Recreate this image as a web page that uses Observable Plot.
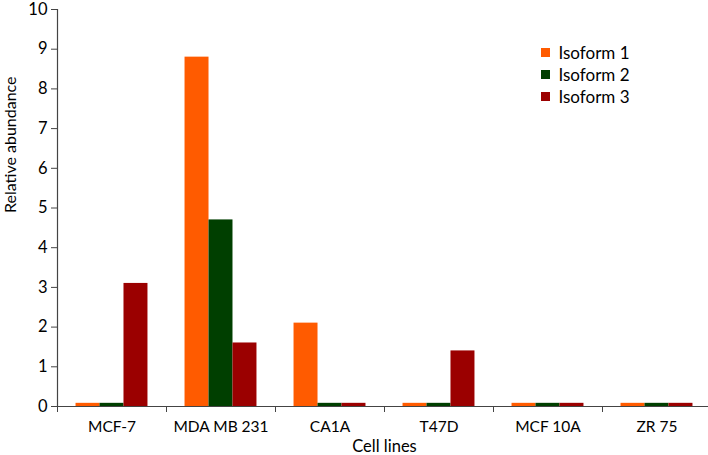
<!DOCTYPE html>
<html>
<head>
<meta charset="utf-8">
<script src="https://cdn.jsdelivr.net/npm/d3@7"></script>
<script src="https://cdn.jsdelivr.net/npm/@observablehq/plot@0.6"></script>
<style>
  html, body { margin: 0; padding: 0; background: #fff; }
  #wrap { position: relative; width: 708px; height: 455px; font-family: Lato, "Open Sans", sans-serif; }
  #legend { position: absolute; left: 541px; top: 42px; }
  #legend, #legend div, #legend span { font-size: 17px; color: #000; line-height: 21px; }
</style>
</head>
<body>
<div id="wrap"></div>
<script>
const cells = ["MCF-7", "MDA MB 231", "CA1A", "T47D", "MCF 10A", "ZR 75"];
const isoforms = ["Isoform 1", "Isoform 2", "Isoform 3"];
const iso1 = [0.08, 8.8, 2.1, 0.08, 0.08, 0.08];
const iso2 = [0.08, 4.7, 0.08, 0.08, 0.08, 0.08];
const iso3 = [3.1, 1.6, 0.08, 1.4, 0.08, 0.08];
const colors = ["#ff5b00", "#003f00", "#9b0000"];
const yTicks = [0, 1, 2, 3, 4, 5, 6, 7, 8, 9, 10];
const xTitle = "Cell lines";
const yTitle = "Relative abundance";

const series = [iso1, iso2, iso3];
const data = [];
cells.forEach((c, i) => isoforms.forEach((s, k) => data.push({cell: c, index: i, isoform: s, value: series[k][i]})));

// inner grouping within each cell-line band
const inner = d3.scaleBand().domain(isoforms).range([0.17, 0.83]);

const font = "Lato, 'Open Sans', sans-serif";

const chart = Plot.plot({
  width: 708,
  height: 455,
  marginLeft: 57,
  marginRight: -3,
  marginTop: 9,
  marginBottom: 49,
  style: {fontFamily: font, fontSize: "16px", color: "#000", background: "#fff", overflow: "visible"},
  x: {domain: [0, cells.length]},
  y: {domain: [0, 10]},
  color: {domain: isoforms, range: colors},
  marks: [
    Plot.rectY(data, {
      x1: d => d.index + inner(d.isoform),
      x2: d => d.index + inner(d.isoform) + inner.bandwidth(),
      y: "value",
      fill: "isoform"
    }),
    Plot.ruleY([0], {stroke: "#444", strokeWidth: 1.2}),
    Plot.ruleX([0], {stroke: "#444", strokeWidth: 1.2}),
    Plot.axisY({ticks: yTicks, tickSize: 6, tickPadding: 4, fontSize: 16.5, stroke: "#444", label: null}),
    Plot.axisX({ticks: d3.range(cells.length + 1), tickFormat: () => "", tickSize: 6, stroke: "#444", label: null}),
    Plot.axisX({ticks: cells.map((c, i) => i + 0.5), tickFormat: t => cells[Math.round(t - 0.5)], tickSize: 0, tickPadding: 14,
      fontSize: 15.5, label: null}),
    Plot.text([yTitle], {frameAnchor: "left", rotate: -90, dx: -47, dy: 5, fontSize: 16, fill: "#000"}),
    Plot.text([xTitle], {frameAnchor: "bottom", lineAnchor: "middle", dy: 40, fontSize: 16.5, fill: "#000"})
  ]
});

const wrap = document.getElementById("wrap");
wrap.appendChild(chart);

const legend = Plot.legend({
  color: {domain: isoforms, range: colors},
  legend: "swatches",
  columns: 1,
  swatchSize: 9,
  style: {fontFamily: font, fontSize: "17px", color: "#000"}
});
legend.id = "legend";
wrap.appendChild(legend);
</script>
</body>
</html>
